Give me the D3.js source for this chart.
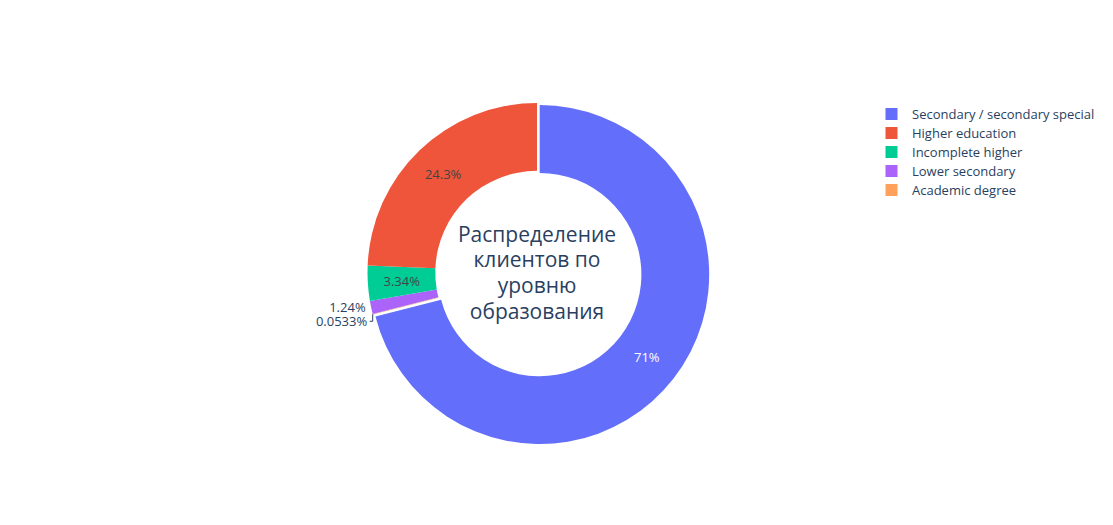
<!DOCTYPE html>
<html>
<head>
<meta charset="utf-8">
<script src="https://cdn.jsdelivr.net/npm/d3@7"></script>
<style>
  html, body { margin: 0; padding: 0; background: #fff; }
  svg { display: block; font-family: "Open Sans", verdana, arial, sans-serif; }
</style>
</head>
<body>
<svg id="chart" width="1113" height="525"></svg>
<script>
// ---- data ----
const categories = ["Secondary / secondary special", "Higher education", "Incomplete higher", "Lower secondary", "Academic degree"];
const counts = [218391, 74863, 10277, 3816, 164];
const colors = ["#636efa", "#EF553B", "#00cc96", "#ab63fa", "#FFA15A"];
const pulls = [0.02, 0, 0, 0, 0];
const centerTitle = ["Распределение", "клиентов по", "уровню", "образования"];
// slices are laid clockwise from 12 o'clock in this order (indices into categories)
const drawOrder = [0, 4, 3, 2, 1];

// ---- layout ----
const svg = d3.select("#chart");
const cx = 537, cy = 272.5, R = 169.5, hole = 0.6, Ri = R * hole;
const total = d3.sum(counts);
const fmt = d3.format(".3~p");
const FS = 13;

const items = drawOrder.map(i => ({ i, name: categories[i], v: counts[i], color: colors[i], pull: pulls[i] }));
const pie = d3.pie().sort(null).value(d => d.v).startAngle(0).endAngle(2 * Math.PI);
const arcs = pie(items);
const arc = d3.arc().innerRadius(Ri).outerRadius(R);

const g = svg.append("g").attr("transform", `translate(${cx},${cy})`);

function offsetOf(a) {
  const mid = (a.startAngle + a.endAngle) / 2;
  const d = a.data.pull * R;
  return [Math.sin(mid) * d, -Math.cos(mid) * d];
}

g.selectAll("path.slice").data(arcs).join("path")
  .attr("class", "slice")
  .attr("d", arc)
  .attr("fill", d => d.data.color)
  .attr("transform", d => { const o = offsetOf(d); return `translate(${o[0]},${o[1]})`; });

// ---- labels ----
const midArc = d3.arc().innerRadius((R + Ri) / 2).outerRadius((R + Ri) / 2);
const insideMin = 0.02; // fraction below which label goes outside
function textColor(c) {
  return d3.lab(c).l > 55 ? "#444" : "#fff";
}
let prevY = -Infinity;
const outside = [];
arcs.forEach(a => {
  const frac = a.data.v / total;
  const o = offsetOf(a);
  const label = fmt(frac);
  if (frac >= insideMin) {
    const c = midArc.centroid(a);
    g.append("text")
      .attr("x", c[0] + o[0]).attr("y", c[1] + o[1])
      .attr("text-anchor", "middle").attr("dy", "0.35em")
      .attr("font-size", FS)
      .attr("fill", textColor(a.data.color))
      .text(label);
  } else {
    outside.push({ a, label, o });
  }
});
// outside labels: ordered by angle descending (they sit on the left side)
outside.sort((p, q) => q.a.startAngle - p.a.startAngle);
outside.forEach(p => {
  const mid = (p.a.startAngle + p.a.endAngle) / 2;
  const px = Math.sin(mid) * R + p.o[0];
  const py = -Math.cos(mid) * R + p.o[1];
  let y = Math.max(py, prevY + 13.8);
  prevY = y;
  const tx = px - 5.5;
  if (y - py > 1) {
    g.append("path")
      .attr("d", `M${px},${py}V${y}H${tx + 2.5}`)
      .attr("fill", "none").attr("stroke", "#2a3f5f").attr("stroke-width", 1);
  }
  g.append("text")
    .attr("x", tx).attr("y", y)
    .attr("text-anchor", "end").attr("dy", "0.35em")
    .attr("font-size", FS).attr("fill", "#2a3f5f")
    .text(p.label);
});

// ---- centre title ----
const title = g.append("text").attr("text-anchor", "middle").attr("font-size", 21).attr("fill", "#2a3f5f");
centerTitle.forEach((t, k) => {
  title.append("tspan").attr("x", 0).attr("y", (k - (centerTitle.length - 1) / 2) * 25.8 + 7.8).text(t);
});

// ---- legend ----
const legend = svg.append("g").attr("transform", "translate(891.5,114)");
const li = legend.selectAll("g").data(categories).join("g")
  .attr("transform", (d, k) => `translate(0,${k * 19})`);
li.append("rect").attr("x", -6).attr("y", -6).attr("width", 12).attr("height", 12)
  .attr("fill", (d, k) => colors[k]);
li.append("text").attr("x", 20.5).attr("dy", "0.35em").attr("font-size", FS).attr("fill", "#2a3f5f").text(d => d);
</script>
</body>
</html>
